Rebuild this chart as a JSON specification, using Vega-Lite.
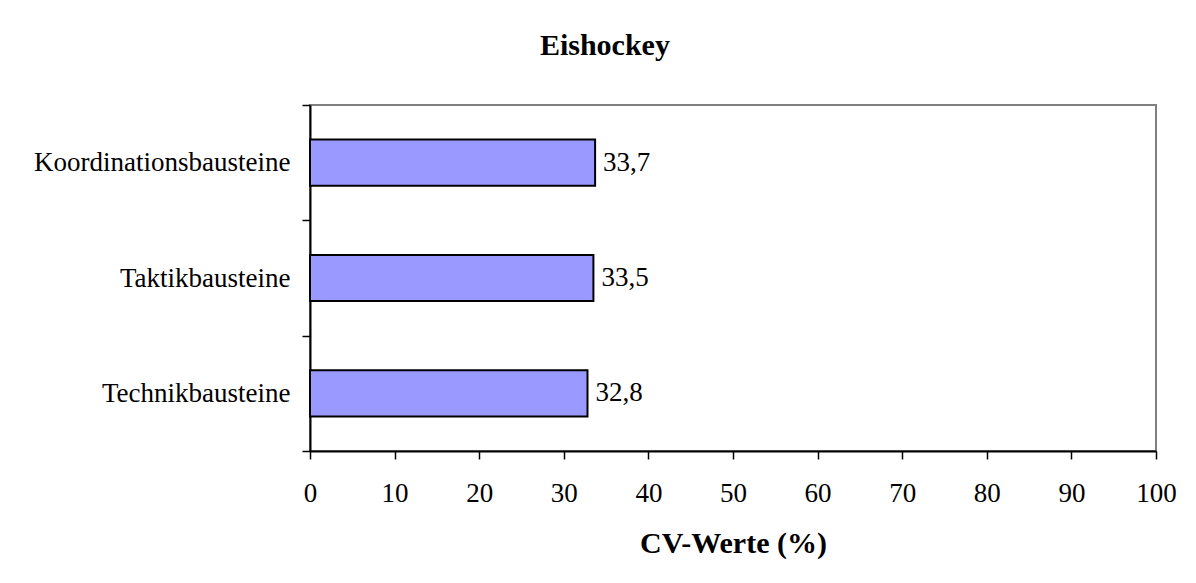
{
  "$schema": "https://vega.github.io/schema/vega-lite/v6.json",
  "width": 846,
  "height": 346,
  "autosize": {"type": "none"},
  "padding": {"left": 310, "top": 105, "right": 40, "bottom": 132},
  "background": "white",
  "title": {
    "text": "Eishockey",
    "anchor": "middle",
    "frame": "bounds",
    "font": "Liberation Serif",
    "fontSize": 30,
    "fontWeight": "bold",
    "color": "black",
    "baseline": "alphabetic",
    "offset": 6
  },
  "config": {
    "locale": {
      "number": {"decimal": ",", "thousands": ".", "grouping": [3], "currency": ["", " €"]}
    },
    "view": {"stroke": "#808080", "strokeWidth": 2, "fill": "white"}
  },
  "data": {
    "values": [
      {"Baustein": "Koordinationsbausteine", "CV": 33.7},
      {"Baustein": "Taktikbausteine", "CV": 33.5},
      {"Baustein": "Technikbausteine", "CV": 32.8}
    ]
  },
  "encoding": {
    "y": {
      "field": "Baustein",
      "type": "nominal",
      "sort": null,
      "scale": {"paddingInner": 0, "paddingOuter": 0},
      "axis": {
        "title": null,
        "grid": false,
        "tickBand": "extent",
        "tickSize": 8,
        "tickColor": "black",
        "tickWidth": 1.5,
        "domainColor": "black",
        "domainWidth": 2,
        "labelFont": "Liberation Serif",
        "labelFontSize": 27,
        "labelColor": "black",
        "labelPadding": 12,
        "labelLimit": 400
      }
    },
    "x": {
      "field": "CV",
      "type": "quantitative",
      "scale": {"domain": [0, 100], "nice": false},
      "axis": {
        "values": [0, 10, 20, 30, 40, 50, 60, 70, 80, 90, 100],
        "format": "d",
        "grid": false,
        "tickSize": 8,
        "tickColor": "black",
        "tickWidth": 1.5,
        "domainColor": "black",
        "domainWidth": 2,
        "labelFont": "Liberation Serif",
        "labelFontSize": 27,
        "labelColor": "black",
        "labelBaseline": "alphabetic",
        "labelPadding": 42,
        "labelFlush": false,
        "labelOverlap": false,
        "title": "CV-Werte (%)",
        "titleFont": "Liberation Serif",
        "titleFontSize": 30,
        "titleFontWeight": "bold",
        "titleColor": "black",
        "titleBaseline": "alphabetic",
        "titleY": 101
      }
    }
  },
  "layer": [
    {
      "mark": {
        "type": "bar",
        "height": {"band": 0.4},
        "fill": "#9999FF",
        "stroke": "black",
        "strokeWidth": 2
      }
    },
    {
      "mark": {
        "type": "text",
        "align": "left",
        "baseline": "middle",
        "dx": 8,
        "font": "Liberation Serif",
        "fontSize": 27,
        "color": "black"
      },
      "encoding": {
        "text": {"field": "CV", "type": "quantitative", "format": ".1f"}
      }
    }
  ]
}
